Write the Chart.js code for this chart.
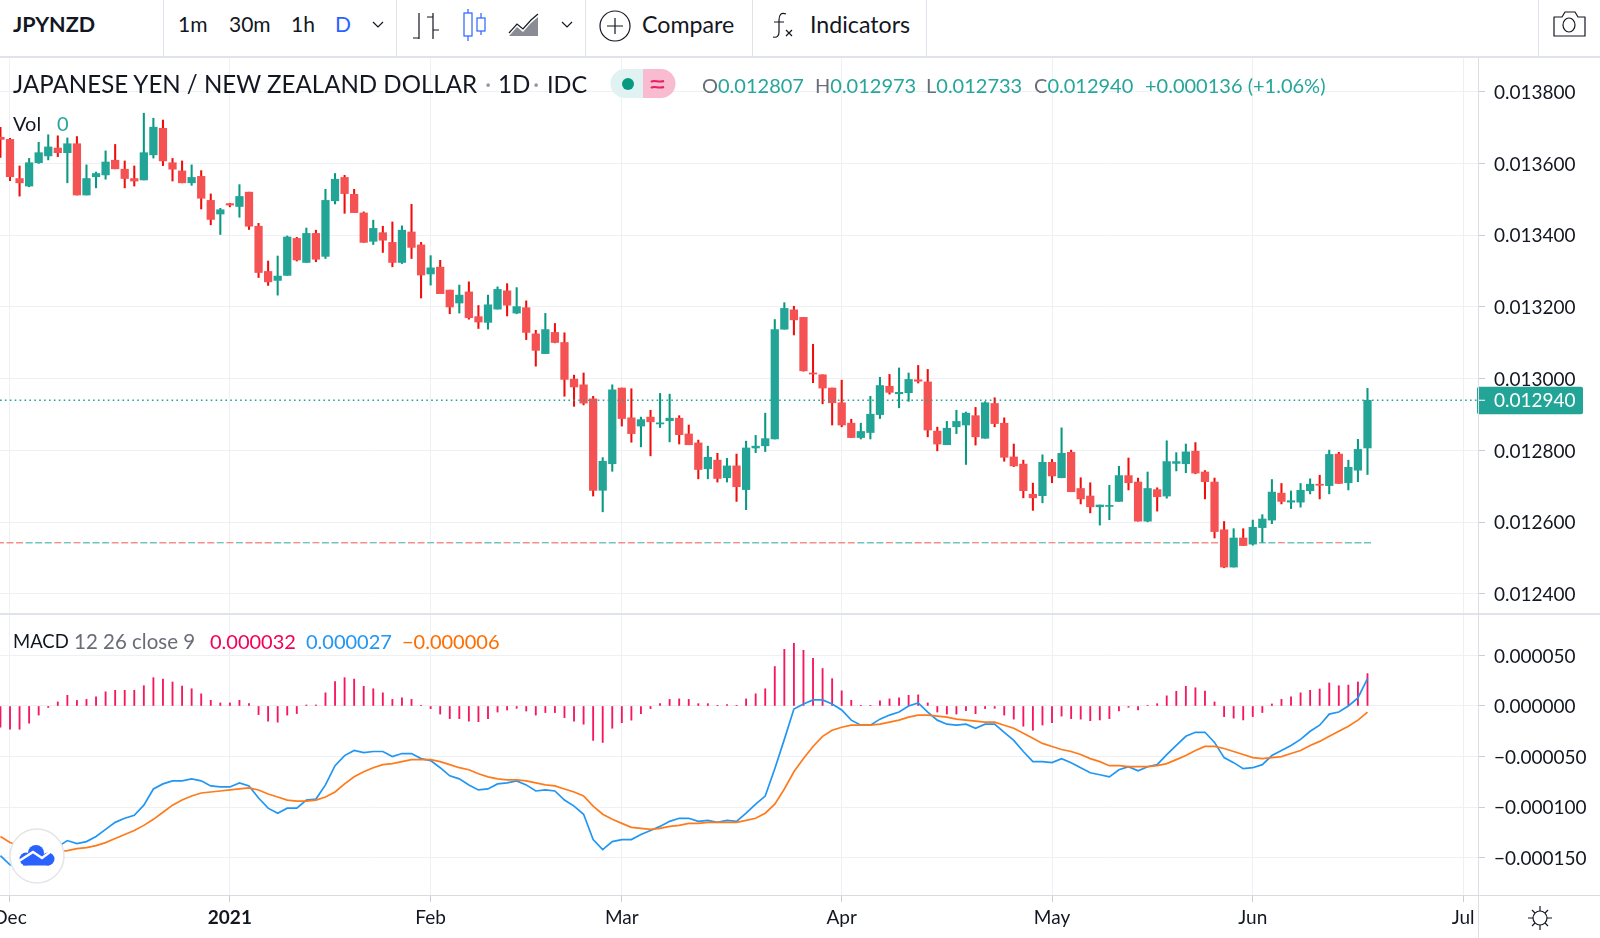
<!DOCTYPE html>
<html>
<head>
<meta charset="utf-8">
<title>JPYNZD</title>
<script src="https://cdn.jsdelivr.net/npm/chart.js@4/dist/chart.umd.min.js"></script>
<style>
html, body { margin: 0; padding: 0; background: #fff; width: 1600px; height: 938px; overflow: hidden; }
body { position: relative; font-family: Lato, sans-serif; color: #131722; }
canvas { position: absolute; left: 0; }
#priceChart { top: 57px; }
#macdChart { top: 614px; }
.t { position: absolute; white-space: pre; line-height: 30px; height: 30px; font-size: 20px; z-index: 3; }
.ln { position: absolute; background: #e0e3eb; z-index: 2; }
svg { position: absolute; z-index: 3; overflow: visible; }
.teal { color: #26a69a; }
.grey { color: #6a6d78; }
</style>
</head>
<body>
<div class="ln" style="left:0;top:56px;width:1600px;height:1.5px"></div>
<div class="ln" style="left:163px;top:0;width:1px;height:56px"></div>
<div class="ln" style="left:396px;top:0;width:1px;height:56px"></div>
<div class="ln" style="left:585px;top:0;width:1px;height:56px"></div>
<div class="ln" style="left:752px;top:0;width:1px;height:56px"></div>
<div class="ln" style="left:926px;top:0;width:1px;height:56px"></div>
<div class="ln" style="left:1538px;top:0;width:1px;height:56px"></div>
<div class="ln" style="left:0;top:613px;width:1600px;height:1.5px"></div>
<div class="ln" style="left:0;top:894.5px;width:1600px;height:1.2px;background:#d9dbe1"></div>
<div class="ln" style="left:1477.500px;top:57px;width:1.5px;height:881px;background:#dcdee4"></div>

<span class="t" style="left:13px;top:9px;font-size:21.500px;font-weight:bold">JPYNZD</span>
<span class="t" style="left:178px;top:9px;font-size:21px">1m</span>
<span class="t" style="left:229px;top:9px;font-size:21px">30m</span>
<span class="t" style="left:291px;top:9px;font-size:21px">1h</span>
<span class="t" style="left:335px;top:9px;font-size:21px;color:#2962ff">D</span>
<span class="t" style="left:642px;top:9px;font-size:23.200px">Compare</span>
<span class="t" style="left:810px;top:9px;font-size:23.200px">Indicators</span>

<svg style="left:0;top:0" width="1600" height="56" fill="none" stroke="#131722" stroke-width="1.2">
  <path d="M373 22l5 5 5-5M562 22l5 5 5-5"/>
  <path d="M419 13v26M413 38h6M433 13v26M433 17h-6M433 30h6"/>
  <path d="M468 9v32M481 13v22" stroke="#2962ff"/>
  <rect x="464" y="13" width="8" height="23" stroke="#2962ff" fill="#fff"/>
  <rect x="477" y="18" width="8" height="13" stroke="#2962ff" fill="#fff"/>
  <path d="M509 33l8-9 6 5 8-9 7-6"/>
  <path d="M509 36l8-9 6 5 8-9 7-6v19z" stroke="none" fill="#8a8c94"/>
  <circle cx="615" cy="26" r="15"/>
  <path d="M615 18v16M607 26h16"/>
  <path d="M786 14c-5-2-7 1-7 6v12c0 4-2 6-6 5M774 22h10M786 30l6 6M792 30l-6 6"/>
  <path d="M1554 17h8l3-5h10l3 5h7v19h-31z" stroke-linejoin="round"/>
  <ellipse cx="1569" cy="25" rx="6" ry="7"/>
</svg>

<span class="t" style="left:13px;top:69px;font-size:24.100px">JAPANESE YEN / NEW ZEALAND DOLLAR</span>
<span class="t" style="left:485px;top:69px;font-size:24.100px;color:#9598a1">·</span>
<span class="t" style="left:498px;top:69px;font-size:24.100px">1D</span>
<span class="t" style="left:533px;top:69px;font-size:24.100px;color:#9598a1">·</span>
<span class="t" style="left:547px;top:69px;font-size:23.500px">IDC</span>
<svg style="left:0;top:0" width="700" height="110">
  <path d="M643 69h-18a14.500 14.500 0 0 0 0 29h18z" fill="#e0f2f1"/>
  <path d="M643 69h18a14.500 14.500 0 0 1 0 29h-18z" fill="#f8bbd0"/>
  <circle cx="628" cy="84" r="6" fill="#089981"/>
  <path d="M651 82c3-3 7 1 13-1M651 88c3-3 7 1 13-1" fill="none" stroke="#e91e63" stroke-width="2"/>
</svg>
<span class="t grey" style="left:702px;top:70px">O<span class="teal">0.012807</span></span>
<span class="t grey" style="left:815px;top:70px">H<span class="teal">0.012973</span></span>
<span class="t grey" style="left:926px;top:70px">L<span class="teal">0.012733</span></span>
<span class="t grey" style="left:1034px;top:70px">C<span class="teal">0.012940</span></span>
<span class="t teal" style="left:1145px;top:70px">+0.000136 (+1.06%)</span>
<span class="t" style="left:13px;top:108px">Vol</span>
<span class="t teal" style="left:57px;top:108px">0</span>

<span class="t" style="left:13px;top:626px;font-size:18.500px">MACD</span>
<span class="t grey" style="left:74px;top:626px;font-size:20.500px">12 26 close 9</span>
<span class="t" style="left:210px;top:626px;color:#f50057">0.000032</span>
<span class="t" style="left:306px;top:626px;color:#2196f3">0.000027</span>
<span class="t" style="left:402px;top:626px;color:#ff6d00">−0.000006</span>

<svg style="left:0;top:0" width="1600" height="938">
  <circle cx="37" cy="856" r="27" fill="#fff" stroke="#e4e5e8" stroke-width="1.5"/>
  <g fill="#2962ff">
    <circle cx="26" cy="859" r="6.500"/>
    <circle cx="36" cy="853" r="8"/>
    <circle cx="48" cy="859" r="6.500"/>
    <rect x="23" y="857" width="26" height="8.500"/>
  </g>
  <path d="M19 861l14-9 9 6 8-6" fill="none" stroke="#fff" stroke-width="2.500"/>
  <g fill="none" stroke="#131722" stroke-width="1.2">
    <circle cx="1540" cy="918" r="7"/>
    <path d="M1540 906v5M1540 925v5M1528 918h5M1547 918h5M1532 910l3 3M1545 923l3 3M1548 910l-3 3M1535 923l-3 3"/>
  </g>
</svg>

<canvas id="priceChart" width="1600" height="556"></canvas>
<canvas id="macdChart" width="1600" height="324"></canvas>

<script>
// prices are in millionths, bar 0 is 1 Dec 2020
const firstBar = -1;
const open = [13673,13667,13558,13537,13602,13621,13643,13630,13655,13512,
    13563,13568,13609,13584,13558,13554,13624,13698,13602,13579,
    13546,13564,13497,13459,13488,13480,13520,13425,13299,13274,
    13288,13391,13324,13405,13341,13496,13561,13514,13462,13383,
    13407,13380,13324,13409,13373,13292,13311,13247,13211,13242,
    13173,13157,13194,13245,13183,13198,13125,13070,13129,13101,
    12999,12983,12944,12689,12763,12974,12891,12868,12893,12874,
    12883,12890,12846,12821,12749,12773,12724,12757,12691,12807,
    12813,12832,13138,13192,13171,13016,13011,12974,12933,12876,
    12836,12850,12900,12979,12958,12961,12997,12991,12854,12816,
    12866,12871,12897,12834,12931,12876,12782,12762,12678,12674,
    12767,12724,12795,12694,12673,12643,12644,12658,12730,12712,
    12603,12691,12673,12764,12763,12798,12740,12712,12579,12475,
    12556,12539,12585,12606,12681,12656,12656,12688,12706,12702,
    12790,12710,12745,12807];
const high = [13701,13670,13593,13614,13659,13680,13677,13671,13675,13596,
    13576,13635,13653,13607,13593,13740,13726,13721,13614,13607,
    13596,13580,13515,13475,13489,13541,13520,13433,13328,13342,
    13398,13394,13420,13414,13528,13572,13567,13528,13465,13442,
    13425,13437,13426,13486,13380,13343,13330,13247,13261,13270,
    13204,13233,13256,13265,13254,13217,13135,13182,13154,13128,
    13010,13016,12951,12780,12983,12974,12972,12893,12912,12959,
    12957,12897,12871,12829,12812,12792,12778,12790,12826,12842,
    12904,13165,13212,13202,13171,13096,13011,12974,12996,12887,
    12876,12951,13004,13012,13030,13016,13037,13026,12865,12881,
    12912,12907,12920,12936,12947,12891,12818,12773,12709,12788,
    12775,12863,12801,12724,12710,12648,12703,12756,12779,12723,
    12740,12696,12827,12794,12818,12822,12744,12723,12602,12582,
    12582,12606,12621,12719,12708,12687,12708,12721,12731,12801,
    12795,12773,12831,12973];
const low = [13617,13552,13509,13535,13600,13610,13619,13546,13512,13512,
    13532,13556,13585,13532,13537,13554,13615,13594,13551,13546,
    13539,13473,13429,13402,13479,13450,13416,13282,13260,13233,
    13288,13328,13324,13326,13335,13487,13461,13463,13380,13374,
    13352,13312,13321,13335,13225,13261,13237,13181,13183,13166,
    13140,13138,13194,13175,13181,13109,13035,13070,13100,12951,
    12923,12927,12673,12629,12742,12868,12823,12810,12785,12864,
    12824,12818,12816,12721,12721,12712,12712,12658,12635,12794,
    12797,12832,13138,13122,13021,12989,12930,12871,12866,12836,
    12832,12832,12889,12957,12919,12937,12988,12838,12799,12816,
    12847,12761,12815,12834,12866,12770,12755,12668,12633,12654,
    12710,12724,12685,12651,12626,12592,12607,12658,12690,12603,
    12601,12631,12667,12743,12738,12735,12665,12556,12473,12475,
    12535,12536,12544,12596,12651,12638,12642,12679,12665,12679,
    12708,12690,12713,12733];
const close = [13667,13563,13546,13602,13630,13646,13630,13655,13512,13558,
    13572,13604,13585,13558,13551,13630,13701,13607,13584,13546,
    13561,13503,13444,13471,13484,13508,13425,13296,13270,13286,
    13395,13331,13405,13333,13497,13556,13516,13463,13380,13419,
    13386,13324,13414,13366,13289,13309,13237,13200,13233,13170,
    13158,13206,13249,13205,13201,13129,13079,13137,13101,12998,
    12977,12932,12689,12770,12969,12889,12847,12886,12880,12877,
    12890,12844,12816,12747,12781,12722,12757,12699,12807,12812,
    12833,13137,13196,13164,13022,13013,12974,12933,12871,12836,
    12853,12901,12981,12962,12962,12998,12993,12857,12818,12862,
    12881,12904,12838,12933,12875,12781,12757,12688,12668,12767,
    12729,12792,12685,12665,12643,12648,12647,12730,12710,12603,
    12694,12671,12769,12769,12796,12737,12713,12574,12475,12556,
    12535,12586,12609,12684,12658,12660,12689,12706,12703,12789,
    12708,12753,12803,12940];

// MACD pane, also in millionths
const histogram = [-21,-23,-23,-17,-9,-1.5,4,10.5,5.5,6.5,
    9,14,15.5,15.5,15.5,20,28,26.6,23.7,19.7,
    17,12,5.6,3,3,5.6,2.3,-8.5,-15,-16,
    -9,-7.5,1,1,13,24,28,26.6,19.4,17,
    13,6.5,8,6.5,.7,-2.6,-8,-12.5,-12.5,-15,
    -15.5,-12.5,-6,-4,-2.3,-5,-9,-6.5,-6.5,-11.5,
    -15,-18,-34,-36,-22,-16.5,-14,-7.5,-2.6,2.3,
    6.5,7,6.5,2.3,2.3,.3,1.3,.3,7,12,
    17,39,56,62,55,47,37,27,15,5.6,
    .3,.3,5,7,8,10.5,11,3,-6,-8,
    -8,-4.6,-7.6,-2.6,-2.3,-9,-13,-20,-24,-18.8,
    -16.5,-10,-12.5,-13,-14.5,-13.8,-12.5,-5,-1.3,-4,
    .7,2.3,10,14.5,19.4,18,14.8,4,-10.5,-12,
    -13.8,-10.5,-6.5,2,6.5,9,13,15.5,16.8,22.7,
    20,20.7,23.7,32];
const macd = [-148,-157,-160,-157,-150,-145,-139,-133,-136,-134,
    -129,-122,-115,-111,-108,-98,-82,-77,-74,-74,
    -72,-74,-79,-80,-80,-76,-79,-91,-101,-106,
    -101,-101,-93,-92,-78,-59,-49,-44,-46,-45,
    -45,-50,-47,-47,-52,-54,-61,-69,-72,-78,
    -83,-82,-77,-76,-74,-78,-84,-83,-84,-93,
    -99,-107,-132,-142,-134,-132,-132,-127,-123,-119,
    -114,-111,-111,-114,-113,-115,-113,-114,-106,-97,
    -89,-62,-33,-3,2,6,6,2,-4,-14,
    -19,-19,-13,-9,-6,0,3,-6,-14,-18,
    -19,-18,-22,-18,-18,-26,-34,-45,-55,-55,
    -56,-52,-56,-61,-66,-68,-70,-63,-60,-64,
    -60,-58,-48,-39,-30,-26,-26,-36,-51,-56,
    -62,-61,-58,-49,-44,-39,-33,-25,-19,-8,
    -6,0,8,27];
const signal = [-129,-135,-138,-141,-142,-143,-144,-143,-141,-140,
    -138,-135,-131,-127,-123,-118,-112,-105,-98,-93,
    -89,-86,-85,-84,-83,-82,-81,-83,-87,-90,
    -93,-94,-94,-93,-90,-85,-77,-70,-65,-61,
    -58,-57,-55,-53,-53,-53,-55,-58,-61,-63,
    -67,-70,-72,-73,-73,-74,-76,-78,-79,-82,
    -85,-89,-99,-107,-112,-116,-120,-121,-122,-121,
    -119,-118,-116,-116,-115,-115,-115,-115,-113,-111,
    -106,-97,-82,-65,-52,-40,-30,-24,-21,-19,
    -19,-19,-18,-16,-14,-11,-9,-9,-10,-11,
    -13,-14,-15,-16,-16,-19,-22,-27,-32,-37,
    -40,-43,-45,-48,-52,-55,-59,-59,-60,-60,
    -60,-59,-57,-53,-49,-44,-40,-40,-42,-45,
    -48,-51,-52,-51,-50,-47,-44,-39,-35,-30,
    -25,-20,-14,-6];

const priceTicks = [12400,12600,12800,13000,13200,13400,13600,13800];
const macdTicks = [-150,-100,-50,0,50];
const monthBars = [0,23,44,64,87,109,130,152];
const monthLabels = ['Dec','2021','Feb','Mar','Apr','May','Jun','Jul'];
const lastPrice = 12940;
const volumeLevel = 12543;   // the Vol study is all zero, it sits at this level

const upColor = '#22a596';
const downColor = '#f55353';
const gridColor = '#eef0f4';
const fontFamily = 'Lato, sans-serif';

const barX = i => i + firstBar;
const isUp = i => close[i] >= open[i];
const xMin = -1.046, xMax = 153.56;

function xScale(showLabels) {
    return {
        type: 'linear',
        min: xMin,
        max: xMax,
        offset: false,
        grid: { color: gridColor, offset: false, tickLength: showLabels ? 7 : 0, tickColor: '#c9ccd3' },
        border: { display: false },
        ticks: {
            display: showLabels,
            autoSkip: false,
            maxRotation: 0,
            padding: 4,
            color: '#131722',
            font: c => ({ family: fontFamily, size: 19, weight: c.index === 1 ? 'bold' : 'normal' }),
            callback: (v, i) => monthLabels[i]
        },
        afterBuildTicks: s => { s.ticks = monthBars.map(v => ({ value: v })); },
        afterFit: s => {
            s.height = showLabels ? 43 : 0;
            s.paddingLeft = 0;
            s.paddingRight = 0;
        }
    };
}

function yScale(min, max, tickValues, format) {
    return {
        position: 'right',
        min: min,
        max: max,
        grid: { color: gridColor, tickLength: 7, tickColor: '#c9ccd3' },
        border: { display: false },
        ticks: {
            padding: 9,
            color: '#131722',
            // blank first line with a small line height nudges the text 1px under the grid line
            font: { family: fontFamily, size: 19, lineHeight: '2px' },
            callback: v => ['', format(v)]
        },
        afterBuildTicks: s => { s.ticks = tickValues.map(v => ({ value: v })); },
        afterFit: s => {
            s.width = 122;
            s.paddingTop = 0;
            s.paddingBottom = 0;
        }
    };
}

const formatTick = v => (v < 0 ? '−' : '') + (Math.abs(v) / 1e6).toFixed(6);

// the teal flag with the last price on the axis
const lastPriceFlag = {
    id: 'lastPriceFlag',
    afterDraw(chart) {
        const ctx = chart.ctx;
        const y = chart.scales.y.getPixelForValue(lastPrice);
        const x = chart.chartArea.right;
        ctx.save();
        ctx.fillStyle = '#22a596';
        ctx.beginPath();
        ctx.roundRect(x - 1, y - 13.6, 106, 27.6, 2);
        ctx.fill();
        ctx.fillStyle = '#fff';
        ctx.fillRect(x, y - 0.5, 7, 1);
        ctx.font = '19px ' + fontFamily;
        ctx.textBaseline = 'middle';
        ctx.fillText(formatTick(lastPrice), x + 16, y + 1);
        ctx.restore();
    }
};

const priceChart = new Chart(document.getElementById('priceChart'), {
    type: 'line',
    plugins: [lastPriceFlag],
    data: {
        datasets: [
            {
                type: 'line',
                label: 'Vol',
                order: 4,
                data: open.concat([0]).map((v, i) => ({ x: barX(i) - 0.5, y: volumeLevel })),
                borderWidth: 1.4,
                pointRadius: 0,
                borderDash: [7, 2.56],
                borderDashOffset: 8.28,
                segment: {
                    borderColor: c => isUp(c.p0DataIndex) ? 'rgba(38,166,154,0.65)' : 'rgba(239,83,80,0.65)'
                }
            },
            {
                type: 'bar',
                label: 'wick',
                order: 3,
                grouped: false,
                barThickness: 1.4,
                data: high.map((h, i) => ({ x: barX(i), y: [low[i], h] })),
                backgroundColor: open.map((v, i) => isUp(i) ? '#089981' : '#f20d0d')
            },
            {
                type: 'bar',
                label: 'body',
                order: 2,
                grouped: false,
                barThickness: 7.6,
                data: open.map((o, i) => ({ x: barX(i), y: [o, close[i]] })),
                backgroundColor: open.map((v, i) => isUp(i) ? upColor : downColor)
            },
            {
                type: 'line',
                label: 'last',
                order: 1,
                data: [{ x: xMin, y: lastPrice }, { x: xMax, y: lastPrice }],
                borderColor: '#22a596',
                borderWidth: 1.5,
                borderDash: [1.6, 3.3],
                pointRadius: 0
            }
        ]
    },
    options: {
        responsive: false,
        animation: false,
        layout: { padding: 0 },
        plugins: { legend: { display: false }, tooltip: { enabled: false } },
        scales: {
            x: xScale(false),
            y: yScale(12347, 13896.7, priceTicks, formatTick)
        }
    }
});

const macdChart = new Chart(document.getElementById('macdChart'), {
    type: 'line',
    data: {
        datasets: [
            {
                type: 'bar',
                label: 'Histogram',
                order: 3,
                barThickness: 1.2,
                data: histogram.map((v, i) => ({ x: barX(i), y: v })),
                backgroundColor: '#f6175f'
            },
            {
                type: 'line',
                label: 'MACD',
                order: 2,
                data: macd.map((v, i) => ({ x: barX(i), y: v })),
                borderColor: '#2196f3',
                borderWidth: 1.7,
                pointRadius: 0
            },
            {
                type: 'line',
                label: 'Signal',
                order: 1,
                data: signal.map((v, i) => ({ x: barX(i), y: v })),
                borderColor: '#ff7a1a',
                borderWidth: 1.7,
                pointRadius: 0
            }
        ]
    },
    options: {
        responsive: false,
        animation: false,
        layout: { padding: 0 },
        plugins: { legend: { display: false }, tooltip: { enabled: false } },
        scales: {
            x: xScale(true),
            y: yScale(-186.8, 90.9, macdTicks, formatTick)
        }
    }
});
</script>
</body>
</html>
